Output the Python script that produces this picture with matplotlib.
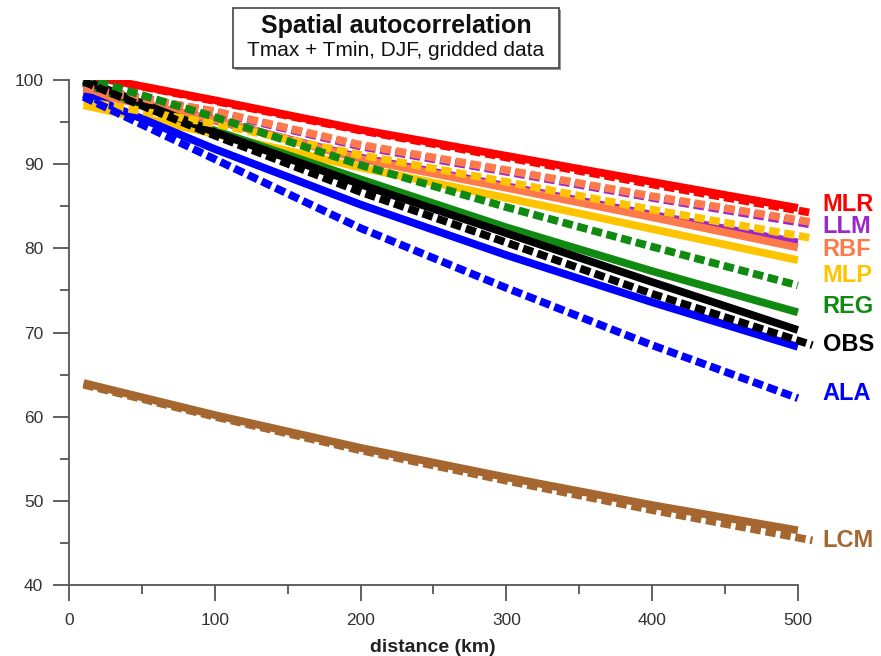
import numpy as np
import matplotlib
matplotlib.use("Agg")
from matplotlib import pyplot as plt
from matplotlib.patches import Rectangle

plt.rcParams['font.family'] = ['Liberation Sans', 'DejaVu Sans']

dist = [10, 100, 200, 300, 400, 500]
dist_long = [10, 100, 200, 300, 400, 510]

# solid curves
mlr = [100.6, 97.6, 94.1, 91.0, 87.9, 84.8]
llm = [98.8, 95.2, 90.8, 87.4, 84.0, 80.7]
rbf = [98.6, 95.3, 90.6, 87.2, 83.7, 80.1]
mlp = [97.0, 93.6, 89.6, 86.0, 82.3, 78.6]
reg = [99.6, 94.0, 88.2, 82.5, 77.3, 72.4]
obs = [100.0, 93.8, 87.6, 81.8, 76.0, 70.3]
ala = [98.3, 91.8, 85.2, 79.2, 73.6, 68.3]
lcm = [64.0, 60.2, 56.3, 52.8, 49.5, 46.5]

# dashed curves
mlr_d = [100.6, 97.5, 94.0, 90.8, 87.6, 84.2]
llm_d = [99.2, 96.2, 92.1, 89.1, 86.0, 82.8]
rbf_d = [99.0, 96.3, 92.3, 89.3, 86.2, 83.1]
mlp_d = [97.5, 94.8, 91.1, 87.9, 84.6, 81.2]
reg_d = [100.3, 95.6, 89.9, 84.9, 80.2, 75.6]
obs_d = [99.8, 93.4, 86.7, 80.7, 74.6, 68.5]
ala_d = [98.0, 90.6, 82.4, 75.3, 68.5, 62.2]
lcm_d = [63.8, 60.0, 56.0, 52.4, 48.9, 45.3]

names = ['MLR', 'LLM', 'RBF', 'MLP', 'REG', 'OBS', 'ALA', 'LCM']
colors = ['#ff0000', '#9a28c8', '#ff7a4a', '#ffc400', '#108a10', '#000000', '#0000ff', '#a5672f']
label_y = [85.2, 82.6, 79.9, 76.8, 73.1, 68.6, 62.8, 45.3]

solid = [mlr, llm, rbf, mlp, reg, obs, ala, lcm]
dashed = [mlr_d, llm_d, rbf_d, mlp_d, reg_d, obs_d, ala_d, lcm_d]
dashed_x = [dist_long, dist_long, dist_long, dist_long, dist, dist_long, dist, dist_long]

fig = plt.figure(figsize=(8.81, 6.56), dpi=100)
ax = fig.add_axes([0.0783, 0.1082, 0.8604, 0.7698])

lw = 5.6
for i in range(len(names)):
    ax.plot(dist, solid[i], color=colors[i], lw=lw, solid_capstyle='butt')
for i in range(len(names)):
    ax.plot(dashed_x[i], dashed[i], color=colors[i], lw=lw,
            dashes=(1.35, 0.6), dash_capstyle='butt')

for i in range(len(names)):
    ax.text(517, label_y[i], names[i], color=colors[i], fontsize=17,
            fontweight='bold', ha='left', va='center', clip_on=False)

ax.set_xlim(0, 520)
ax.set_ylim(40, 100)
for s in ['top', 'right']:
    ax.spines[s].set_visible(False)
ax.spines['bottom'].set_bounds(0, 500)
for s in ['left', 'bottom']:
    ax.spines[s].set_color('#555555')
    ax.spines[s].set_linewidth(1.3)

ax.set_xticks(np.arange(0, 501, 100))
ax.set_xticks(np.arange(50, 501, 100), minor=True)
ax.set_yticks(np.arange(40, 101, 10))
ax.set_yticks(np.arange(45, 100, 10), minor=True)
ax.tick_params(which='major', direction='out', length=11.5, width=1.3,
               color='#555555', labelsize=12.5, labelcolor='#333333')
ax.tick_params(which='minor', direction='out', length=6.5, width=1.3, color='#555555')
ax.tick_params(axis='x', which='major', pad=9)
ax.tick_params(axis='y', which='major', pad=7)

fig.text(433 / 881, 1 - 648 / 656, 'distance (km)', ha='center', va='center',
         fontsize=14, fontweight='bold', color='#222222')

# title box
fig.patches.append(Rectangle((235 / 881, 1 - 70 / 656), 326 / 881, 60 / 656,
                             transform=fig.transFigure, facecolor='#999999',
                             edgecolor='none', zorder=1))
fig.patches.append(Rectangle((233 / 881, 1 - 68 / 656), 326 / 881, 60 / 656,
                             transform=fig.transFigure, facecolor='white',
                             edgecolor='#444444', lw=1.2, zorder=2))
fig.text(396 / 881, 1 - 26 / 656, 'Spatial autocorrelation', ha='center', va='center',
         fontsize=18, fontweight='bold', color='#111111', zorder=3)
fig.text(396 / 881, 1 - 51 / 656, 'Tmax + Tmin, DJF, gridded data', ha='center',
         va='center', fontsize=15, color='#111111', zorder=3)

fig.savefig('out.png', dpi=100)
